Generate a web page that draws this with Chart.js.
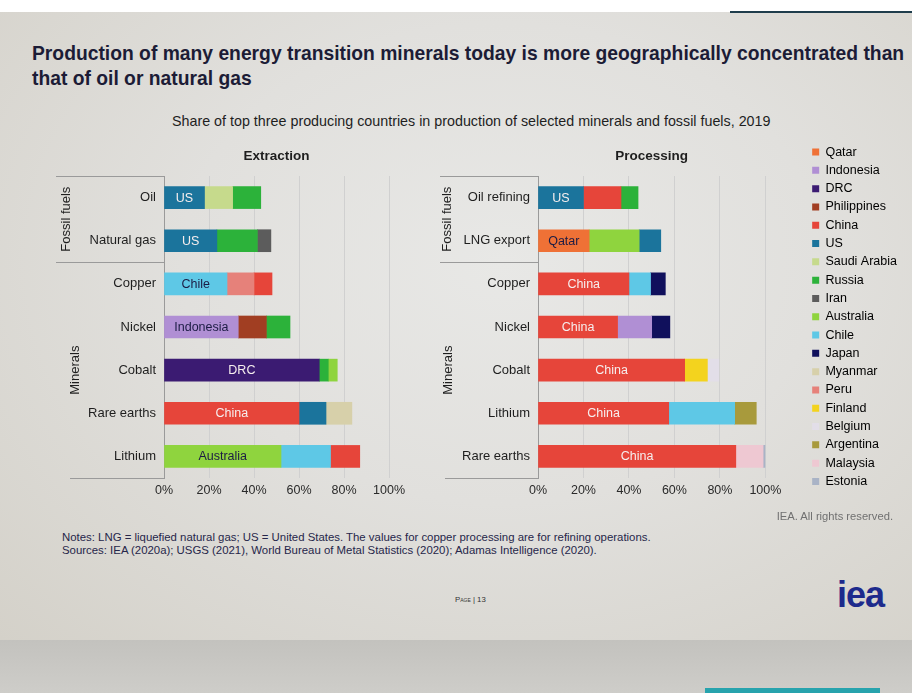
<!DOCTYPE html>
<html><head><meta charset="utf-8">
<script src="https://cdn.jsdelivr.net/npm/chart.js@4.4.1/dist/chart.umd.min.js"></script>
<style>
html,body{margin:0;padding:0;}
body{width:912px;height:693px;overflow:hidden;position:relative;font-family:"Liberation Sans",Arial,sans-serif;background:#d6d5d1;}
#page{position:absolute;left:0;top:12px;width:912px;height:628px;background:radial-gradient(ellipse at 55% 40%, #e8e8e6 0%, #e1e0dd 45%, #d4d1c9 100%);}
#topstrip{position:absolute;left:0;top:0;width:912px;height:12px;background:#fff;}
#topline{position:absolute;left:730px;top:11px;width:182px;height:2px;background:#1f3d4c;}
#bottom{position:absolute;left:0;top:640px;width:912px;height:53px;background:linear-gradient(#c3c2be,#cecdc9);}
#tealbar{position:absolute;left:705px;top:688px;width:175px;height:5px;background:#27a3ad;}
.title{position:absolute;left:32px;top:41px;font-weight:bold;font-size:19.3px;line-height:25px;color:#1c1c36;white-space:nowrap;}
.subtitle{position:absolute;left:172px;top:113px;font-size:14.3px;color:#1e1e1e;white-space:nowrap;}
.notes{position:absolute;left:62px;top:531px;font-size:11.4px;line-height:12.5px;color:#26264a;white-space:nowrap;}
.rights{position:absolute;right:19px;top:510px;font-size:11.2px;color:#707070;white-space:nowrap;}
.pg{position:absolute;left:455px;top:595px;font-size:7.8px;font-variant:small-caps;color:#333;white-space:nowrap;}
.logo{position:absolute;left:837px;top:574px;font-size:36px;font-weight:bold;color:#1d2a8c;letter-spacing:-1px;}
canvas{position:absolute;}
</style>
</head>
<body>
<div id="page"></div>
<div id="topstrip"></div>
<div id="topline"></div>
<div id="bottom"></div>
<div id="tealbar"></div>
<div class="title">Production of many energy transition minerals today is more geographically concentrated than<br>that of oil or natural gas</div>
<div class="subtitle">Share of top three producing countries in production of selected minerals and fossil fuels, 2019</div>
<canvas id="c1" width="360" height="370" style="left:50px;top:140px;"></canvas>
<canvas id="c2" width="627" height="370" style="left:280px;top:140px;"></canvas>
<div class="rights">IEA. All rights reserved.</div>
<div class="notes">Notes: LNG = liquefied natural gas; US = United States. The values for copper processing are for refining operations.<br>Sources: IEA (2020a); USGS (2021), World Bureau of Metal Statistics (2020); Adamas Intelligence (2020).</div>
<div class="pg">Page | 13</div>
<div class="logo">iea</div>
<script>
// ---- Data ----
const extractionCategories = ['Oil','Natural gas','Copper','Nickel','Cobalt','Rare earths','Lithium'];
const extractionFirstCountry  = ['US','US','Chile','Indonesia','DRC','China','Australia'];
const extractionFirst         = [18, 23.5, 28, 33, 69, 60, 52];
const extractionSecondCountry = ['Saudi Arabia','Russia','Peru','Philippines','Russia','US','Chile'];
const extractionSecond        = [12.5, 18, 12, 12.5, 4, 12, 22];
const extractionThirdCountry  = ['Russia','Iran','China','Russia','Australia','Myanmar','China'];
const extractionThird         = [12.5, 6, 8, 10.5, 4, 11.5, 13];

const processingCategories = ['Oil refining','LNG export','Copper','Nickel','Cobalt','Lithium','Rare earths'];
const processingFirstCountry  = ['US','Qatar','China','China','China','China','China'];
const processingFirst         = [20, 22.5, 40, 35, 64.5, 57.5, 87];
const processingSecondCountry = ['China','Australia','Chile','Indonesia','Finland','Chile','Malaysia'];
const processingSecond        = [16.5, 22, 9.5, 15, 10, 29, 12];
const processingThirdCountry  = ['Russia','US','Japan','Japan','Belgium','Argentina','Estonia'];
const processingThird         = [7.5, 9.5, 6.5, 8, 5, 9.5, 1];

const groupNames = ['Fossil fuels','Minerals'];
const groupSizes = [2, 5];

const legendCountries = ['Qatar','Indonesia','DRC','Philippines','China','US','Saudi Arabia','Russia','Iran','Australia','Chile','Japan','Myanmar','Peru','Finland','Belgium','Argentina','Malaysia','Estonia'];
const xTicks = [0,20,40,60,80,100];

// ---- Styles ----
const countryColors = {
  'Qatar':'#ef7136','Indonesia':'#b08fd4','DRC':'#3b1b72','Philippines':'#a13e22','China':'#e6453a',
  'US':'#1b749c','Saudi Arabia':'#c6da8c','Russia':'#2cb23a','Iran':'#5c5c5c','Australia':'#8fd43e',
  'Chile':'#5ec8e6','Japan':'#10105c','Myanmar':'#d7d0aa','Peru':'#e6817a','Finland':'#f3d31e',
  'Belgium':'#e2dee8','Argentina':'#a89a3c','Malaysia':'#eec8d2','Estonia':'#a9b3c6'
};
const lightText = {'US':1,'DRC':1,'China':1};
const FONT = '"Liberation Sans", Arial, sans-serif';

const labelPlugin = {
  id:'barLabels',
  afterDatasetsDraw(chart){
    const ctx = chart.ctx;
    const meta = chart.getDatasetMeta(0);
    const names = chart.options.plugins.barLabels.names;
    ctx.save();
    ctx.font = '12.5px ' + FONT;
    ctx.textAlign = 'center';
    ctx.textBaseline = 'middle';
    meta.data.forEach((el, i) => {
      const n = names[i];
      ctx.fillStyle = lightText[n] ? '#f6eeee' : '#1c1c44';
      ctx.fillText(n, (el.x + el.base) / 2, el.y + 0.5);
    });
    ctx.restore();
  }
};

const groupPlugin = {
  id:'groups',
  afterDraw(chart){
    const o = chart.options.plugins.groups;
    const ctx = chart.ctx, y = chart.scales.y, ca = chart.chartArea;
    ctx.save();
    ctx.strokeStyle = '#9a9a9a';
    ctx.lineWidth = 1;
    const line = (x0, yy) => { ctx.beginPath(); ctx.moveTo(x0, Math.round(yy)+0.5); ctx.lineTo(ca.left, Math.round(yy)+0.5); ctx.stroke(); };
    line(o.lineLeft, ca.top);
    let idx = 0, prev = ca.top;
    groupSizes.forEach((sz, g) => {
      idx += sz;
      const b = idx < y.ticks.length ? (y.getPixelForValue(idx-1) + y.getPixelForValue(idx)) / 2 : ca.bottom;
      if (idx < y.ticks.length) line(o.lineLeft, b); else line(o.bottomLeft, b);
      ctx.save();
      ctx.translate(o.labelX[g], (prev + b) / 2);
      ctx.rotate(-Math.PI/2);
      ctx.font = '13px ' + FONT;
      ctx.fillStyle = '#1e1e1e';
      ctx.textAlign = 'center';
      ctx.textBaseline = 'middle';
      ctx.fillText(groupNames[g], 0, 0);
      ctx.restore();
      prev = b;
    });
    ctx.restore();
  }
};

function makeChart(id, cats, f, fc, s, sc, t, tc, title, opts){
  const cfg = {
    type:'bar',
    data:{
      labels: cats,
      datasets:[
        {label:'1st', data:f, backgroundColor: fc.map(c=>countryColors[c])},
        {label:'2nd', data:s, backgroundColor: sc.map(c=>countryColors[c])},
        {label:'3rd', data:t, backgroundColor: tc.map(c=>countryColors[c])}
      ]
    },
    options:{
      indexAxis:'y',
      responsive:false,
      animation:false,
      devicePixelRatio: 1,
      layout:{padding:0},
      datasets:{bar:{barThickness:22, borderWidth:0}},
      scales:{
        x:{
          stacked:true, min:0, max:100,
          afterBuildTicks(s){ s.ticks = xTicks.map(v=>({value:v})); },
          afterFit(s){ s.height = 32; },
          grid:{drawTicks:false, color:c=> c.tick && c.tick.value===0 ? 'rgba(0,0,0,0)' : '#d0d0d0'},
          border:{display:false},
          ticks:{padding:5, color:'#2a2a2a', font:{family:FONT, size:12.5}, callback:v=>v+'%'}
        },
        y:{
          stacked:true,
          afterFit(s){ s.width = opts.yWidth; },
          grid:{display:false, drawTicks:false},
          border:{display:true, color:'#9a9a9a'},
          ticks:{padding:8, color:'#1e1e1e', font:{family:FONT, size:13}}
        }
      },
      plugins:{
        title:{display:true, text:title, fullSize:false, color:'#1e1e1e', font:{family:FONT, size:13.5, weight:'bold'}, padding:{top:8.5, bottom:11.3}},
        tooltip:{enabled:false},
        legend:{display:false},
        barLabels:{names:fc},
        groups:opts.groups
      }
    },
    plugins:[labelPlugin, groupPlugin]
  };
  if (opts.legend){
    cfg.options.scales.pad = {axis:'y', type:'linear', position:'right', min:0, max:1, display:true,
      grid:{display:false}, border:{display:false}, ticks:{display:false}, afterFit(s){ s.width = opts.padWidth; }};
    cfg.options.plugins.legend = {
      display:true, position:'right', align:'start',
      onClick:null,
      labels:{
        boxWidth:7, boxHeight:7, padding:5.8, color:'#1a1a2e', font:{family:FONT, size:12.5},
        generateLabels(){ return legendCountries.map(c=>({text:c, fillStyle:countryColors[c], strokeStyle:countryColors[c], lineWidth:0, hidden:false})); }
      }
    };
  }
  return new Chart(document.getElementById(id), cfg);
}

makeChart('c1', extractionCategories, extractionFirst, extractionFirstCountry, extractionSecond, extractionSecondCountry, extractionThird, extractionThirdCountry,
  'Extraction', {yWidth:114, groups:{lineLeft:6, bottomLeft:20, labelX:[16, 25]}});
makeChart('c2', processingCategories, processingFirst, processingFirstCountry, processingSecond, processingSecondCountry, processingThird, processingThirdCountry,
  'Processing', {yWidth:258, legend:true, padWidth:41, groups:{lineLeft:160, bottomLeft:165, labelX:[167, 168]}});
</script>
</body></html>
